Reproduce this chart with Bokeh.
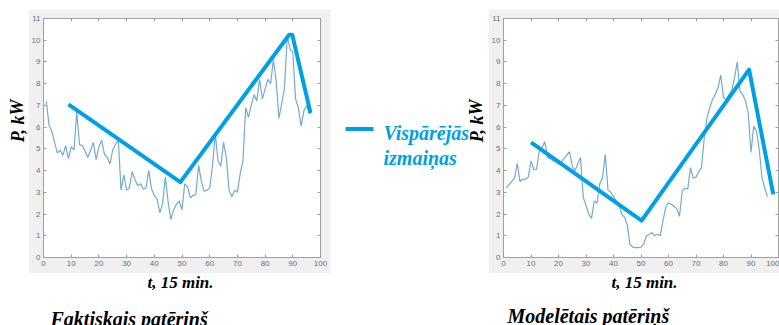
from bokeh.plotting import figure
from bokeh.layouts import row, column, Spacer
from bokeh.models import Range1d, LinearAxis, FixedTicker
from bokeh.core.properties import value
from bokeh.embed import file_html
from bokeh.resources import INLINE

# ---------------- data ----------------
t = list(range(1, 97))
faktiskais = [7.2, 6.1, 5.8, 5.3, 4.8, 4.95, 4.7, 5.15, 4.55, 5.1,
              4.95, 6.7, 5.2, 5.15, 4.9, 4.6, 4.95, 5.3, 4.5, 5.1,
              5.4, 4.75, 4.6, 4.3, 4.95, 5.2, 5.4, 3.1, 3.8, 3.1,
              3.2, 3.95, 3.6, 3.3, 3.4, 3.15, 3.2, 4.0, 3.15, 2.85,
              2.7, 2.05, 2.5, 3.7, 2.55, 1.75, 2.2, 2.45, 2.6, 2.2,
              3.4, 3.25, 2.75, 2.85, 2.9, 4.25, 3.5, 3.05, 3.1, 3.2,
              4.2, 5.7, 4.45, 4.2, 5.3, 4.6, 3.1, 2.8, 3.1, 3.0,
              3.85, 4.45, 6.9, 6.45, 7.0, 7.5, 7.2, 8.2, 7.3, 7.75,
              8.2, 8.0, 9.1, 8.1, 6.4, 7.1, 7.8, 10.2, 9.6, 9.45,
              7.3, 6.9, 6.05, 6.75, 7.0, 6.6]
modeletais = [3.2, 3.35, 3.5, 3.65, 4.33, 3.5, 3.6, 3.6, 3.7, 4.45,
              4.05, 4.05, 4.9, 5.05, 5.33, 4.6, 4.55, 4.45, 4.4, 4.3,
              4.4, 4.55, 4.7, 4.87, 4.2, 4.0, 4.3, 4.6, 2.77, 2.4,
              2.0, 1.8, 2.6, 2.5, 3.4, 3.65, 4.75, 3.1, 3.0, 2.8,
              2.6, 2.45, 2.0, 1.85, 1.5, 0.6, 0.48, 0.45, 0.45, 0.48,
              0.63, 1.0, 1.07, 1.15, 1.0, 1.07, 1.0, 1.7, 2.3, 2.52,
              2.45, 2.35, 2.25, 1.9, 3.07, 3.2, 3.15, 4.14, 3.65, 3.7,
              3.95, 4.15, 5.5, 6.43, 6.9, 7.27, 7.5, 7.8, 8.4, 7.35,
              7.27, 7.5, 7.7, 8.27, 9.0, 7.65, 7.5, 7.2, 6.65, 4.83,
              6.05, 5.8, 4.97, 3.68, 3.2, 2.8]
trend_fakt_t = [9, 49.4, 88.7, 89.8, 96.4]
trend_fakt_p = [7.05, 3.47, 10.25, 10.25, 6.65]
trend_model_t = [10, 50.2, 89.3, 98.1]
trend_model_p = [5.3, 1.7, 8.65, 2.9]
x_ticks = list(range(0, 101, 10))
y_ticks = list(range(0, 12))
x_label = "t, 15 min."
y_label = "P, kW"
legend_lines = ["Vispārējās", "izmaiņas"]
captions = ["Faktiskais patēriņš", "Modelētais patēriņš"]

# ---------------- style ----------------
GREY = "#f0f0f0"
THIN = "#74aad2"
BLUE = "#00a0e6"
AXC = "#a0a0a0"
LBLC = "#707070"
SERIF = "Liberation Serif"
SANS = "Liberation Sans"
TOP_PAD = 9
TOP_H = 264          # chart canvas: screen y 9..273, frame 18..257
BOT_H = 325 - TOP_PAD - TOP_H   # bottom panel: screen y 273..325


def style_axis(ax, ticks, show_labels=True):
    ax.ticker = FixedTicker(ticks=ticks)
    ax.axis_line_color = AXC
    ax.major_tick_line_color = AXC
    ax.minor_tick_line_color = None
    ax.major_tick_in = 3
    ax.major_tick_out = 0
    ax.major_label_text_font = SANS
    if show_labels:
        ax.major_label_text_color = LBLC
        ax.major_label_text_font_size = "8px"
        ax.major_label_standoff = 3
    else:
        ax.major_label_text_color = None
        ax.major_label_text_font_size = "1px"
        ax.major_label_standoff = 0


def chart(w, left, right, tv, pv, tt, tp):
    p = figure(width=w, height=TOP_H, x_range=Range1d(0, 100), y_range=Range1d(0, 11),
               output_backend="svg", toolbar_location=None,
               min_border_left=left, min_border_right=right,
               min_border_top=9, min_border_bottom=16,
               border_fill_color=GREY, background_fill_color="white",
               outline_line_color=AXC)
    p.grid.visible = False
    style_axis(p.xaxis[0], x_ticks)
    style_axis(p.yaxis[0], y_ticks)
    top = LinearAxis()
    rgt = LinearAxis()
    style_axis(top, x_ticks, False)
    style_axis(rgt, y_ticks, False)
    p.add_layout(top, "above")
    p.add_layout(rgt, "right")
    p.line(tv, pv, color=THIN, line_width=1.2)
    p.line(tt, tp, color=BLUE, line_width=4, line_join="round")
    return p


def blank(w, h):
    p = figure(width=w, height=h, x_range=Range1d(0, w), y_range=Range1d(0, h),
               x_axis_type=None, y_axis_type=None,
               output_backend="svg", toolbar_location=None, min_border=0,
               outline_line_color=None, background_fill_color="white",
               border_fill_color="white")
    p.grid.visible = False
    return p


def sy(screen_y, top):
    # convert a page y (from top) into a panel's data y (from bottom)
    return top - screen_y


ROW_BOTTOM = TOP_PAD + TOP_H

# left y-label panel (screen x 0..28)
pa = blank(28, TOP_H)
pa.text(x=[17], y=[sy(122, ROW_BOTTOM)], text=[y_label], angle=1.5708,
        text_font=value(SERIF), text_font_style="bold italic", text_font_size="18px",
        text_color="black", text_align="center", text_baseline="middle")

pb = chart(302, 12, 10, t, faktiskais, trend_fakt_t, trend_fakt_p)

# middle panel with the legend (screen x 330..488)
pc = blank(158, TOP_H)
pc.line(x=[15, 43], y=[sy(131, ROW_BOTTOM)] * 2, color=BLUE, line_width=4)
pc.text(x=[53, 53], y=[sy(136, ROW_BOTTOM), sy(163, ROW_BOTTOM)], text=legend_lines,
        text_font=value(SERIF), text_font_style="bold italic", text_font_size="20px",
        text_color=BLUE, text_align="left", text_baseline="alphabetic")
pc.text(x=[146], y=[sy(122, ROW_BOTTOM)], text=[y_label], angle=1.5708,
        text_font=value(SERIF), text_font_style="bold italic", text_font_size="18px",
        text_color="black", text_align="center", text_baseline="middle")

pd = chart(291, 13, 1, t, modeletais, trend_model_t, trend_model_p)

# bottom panel (screen y 273..325)
pe = blank(779, BOT_H)
pe.text(x=[180, 644], y=[sy(282, 325)] * 2, text=[x_label, x_label],
        text_font=value(SERIF), text_font_style="bold italic", text_font_size="17px",
        text_color="black", text_align="center", text_baseline="alphabetic")
pe.text(x=[50, 507], y=[sy(318, 325), sy(315, 325)], text=captions,
        text_font=value(SERIF), text_font_style="bold italic", text_font_size="20px",
        text_color="black", text_align="left", text_baseline="alphabetic")

layout = column(Spacer(width=779, height=TOP_PAD), row(pa, pb, pc, pd), pe)

open("out.html", "w").write(file_html(layout, INLINE))
